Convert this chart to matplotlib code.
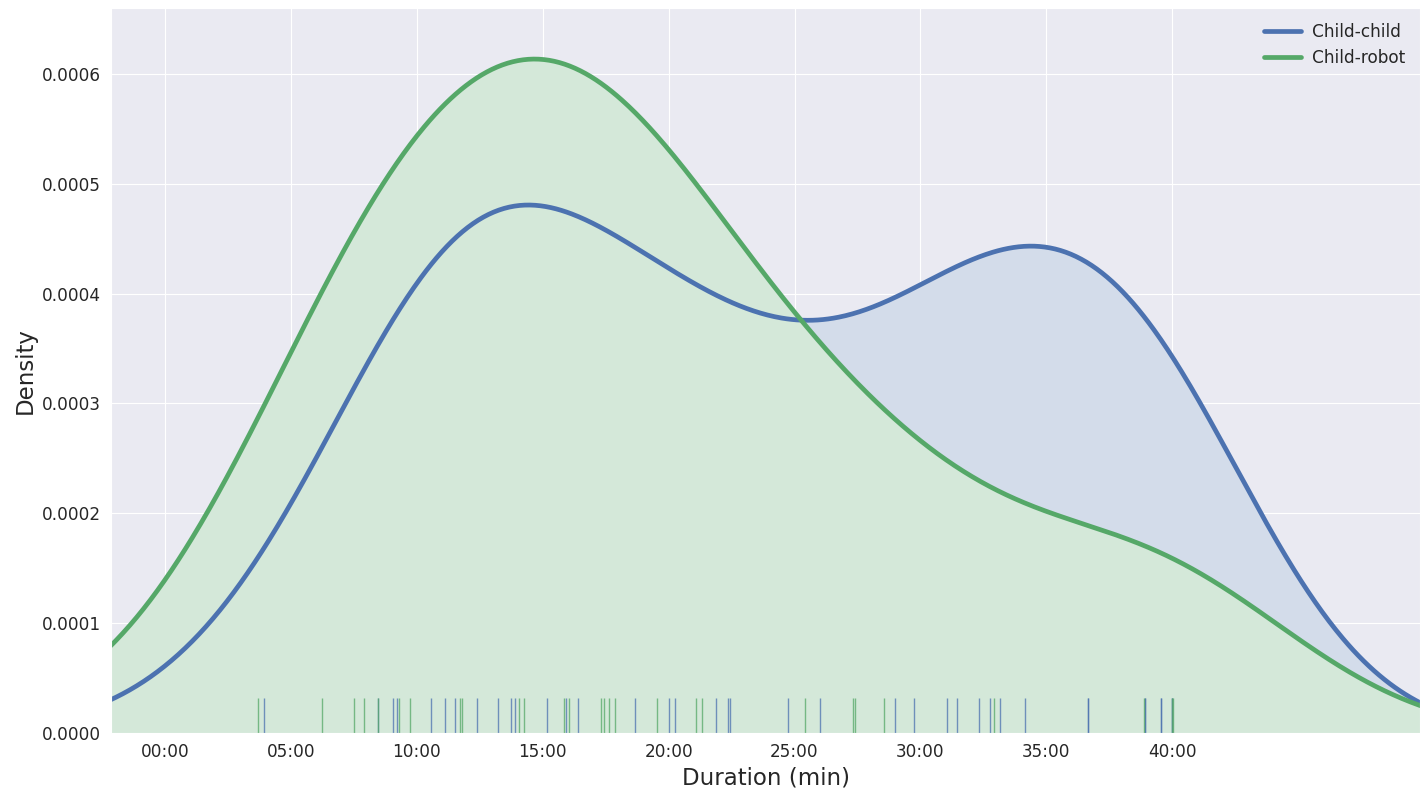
import numpy as np
import matplotlib
matplotlib.use("Agg")
import matplotlib.pyplot as plt
import matplotlib.ticker as ticker
import seaborn as sns

# session durations in minutes (some marks overlap)
child_child = [3.93, 8.46, 9.06, 9.22, 10.57, 11.12, 11.52, 12.39, 13.23, 13.74,
               13.90, 15.17, 15.93, 16.41, 18.67, 20.02, 20.26, 21.89, 22.37, 22.45,
               24.75, 26.02, 29.00, 29.75, 31.06, 31.46, 32.33, 32.77, 33.17, 34.16,
               36.66, 36.66, 38.93, 38.93, 39.56, 39.56, 40.00, 40.00]
child_robot = [3.69, 6.24, 7.51, 7.90, 8.46, 9.29, 9.73, 11.72, 11.80, 14.06,
               14.26, 15.85, 16.05, 17.32, 17.44, 17.64, 17.87, 19.54, 21.09, 21.33,
               25.42, 27.34, 27.40, 28.56, 32.93, 38.89, 40.00, 40.02]
labels = ["Child-child", "Child-robot"]
tick_minutes = [0, 5, 10, 15, 20, 25, 30, 35, 40]

BLUE = "#4C72B0"
GREEN = "#55A868"
FILLS = ["#D3DCEA", "#D4E8D9"]
BW_ADJUST = [0.877, 1.0]


def kde(data, grid, bw):
    """Gaussian kernel density on grid"""
    z = (grid[:, None] - data[None, :]) / bw
    return np.exp(-0.5 * z ** 2).sum(axis=1) / (len(data) * bw * np.sqrt(2 * np.pi))


def format_time(x, pos=None):
    """seconds -> mm:ss"""
    mins, secs = divmod(int(round(x)), 60)
    return "%02d:%02d" % (mins, secs)


sns.set_style("darkgrid", {"grid.linewidth": 1.5})
fig, ax = plt.subplots(figsize=(14.23, 7.9), dpi=100)
fig.subplots_adjust(left=0.078, right=0.998, top=0.99, bottom=0.072)

grid = np.linspace(-200, 3100, 800)
for data, color, fill, label, adj in zip([child_child, child_robot], [BLUE, GREEN],
                                         FILLS, labels, BW_ADJUST):
    secs = np.array(data) * 60
    bw = 1.06 * secs.std(ddof=1) * len(secs) ** (-0.2) * adj
    dens = kde(secs, grid, bw)
    ax.fill_between(grid, 0, dens, color=fill, lw=0)
    ax.plot(grid, dens, color=color, lw=3.4, label=label)

for data, color in zip([child_child, child_robot], [BLUE, GREEN]):
    sns.rugplot(x=np.array(data) * 60, height=0.048, color=color, lw=1, alpha=0.75, ax=ax)

ax.set_xlim(-129, 2991)
ax.set_ylim(0, 0.00066)
ax.set_xticks(np.array(tick_minutes) * 60)
ax.xaxis.set_major_formatter(ticker.FuncFormatter(format_time))
ax.yaxis.set_major_formatter(ticker.FormatStrFormatter("%.4f"))
ax.tick_params(labelsize=12.2)
ax.set_xlabel("Duration (min)", fontsize=16.5)
ax.set_ylabel("Density", fontsize=16.5)
ax.legend(loc="upper right", frameon=False, fontsize=12.2, handlelength=2.2,
          handletextpad=0.6, labelspacing=0.45)

fig.savefig("out.png", dpi=100)
